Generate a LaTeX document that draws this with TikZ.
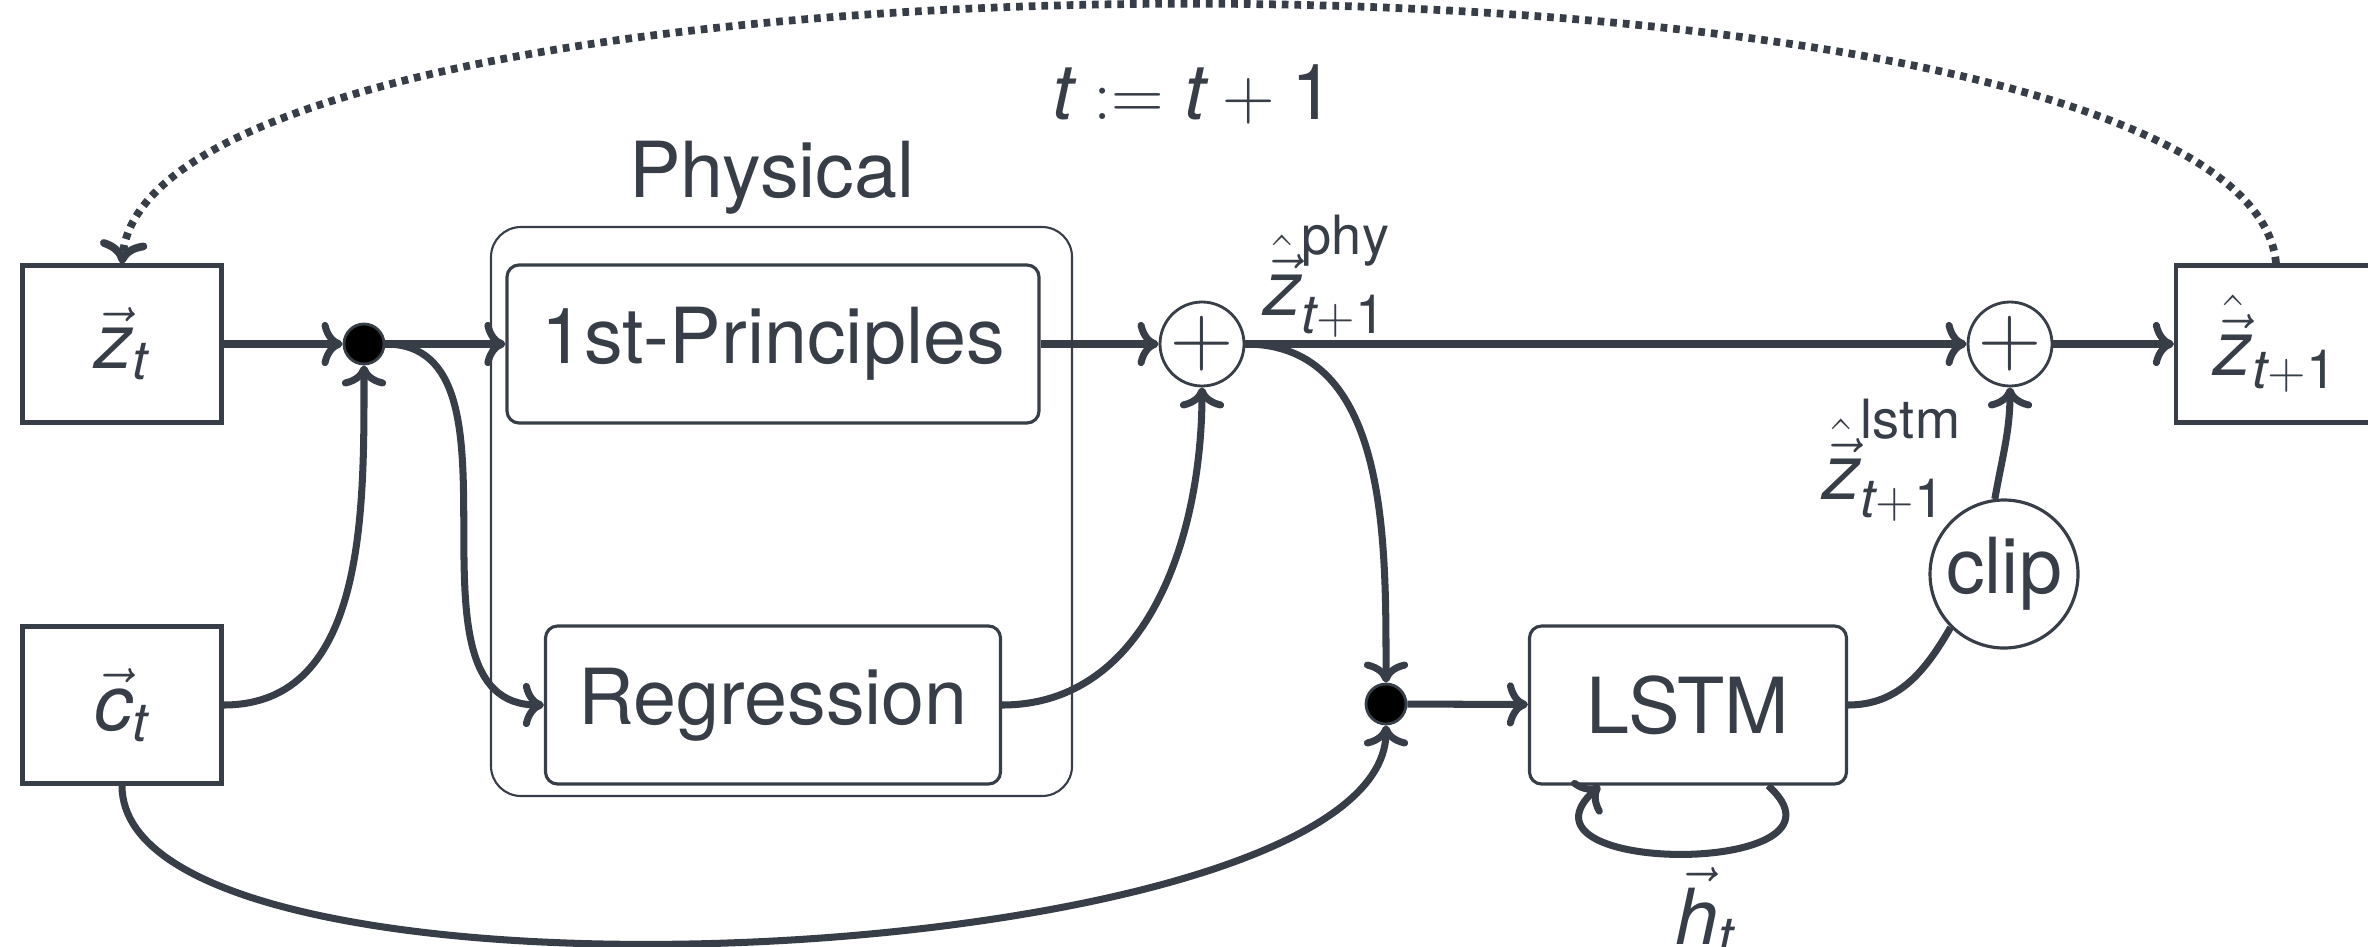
\documentclass[tikz,border=0pt]{standalone}
\usepackage[no-math]{fontspec}
\setmainfont{TeX Gyre Heros}
\newfontfamily\herosfam{TeX Gyre Heros}[NFSSFamily=herosnfss]
\DeclareSymbolFont{hvletters}{TU}{herosnfss}{m}{it}
\DeclareSymbolFont{hvdigits}{TU}{herosnfss}{m}{n}
\DeclareMathSymbol{c}{\mathalpha}{hvletters}{`c}
\DeclareMathSymbol{h}{\mathalpha}{hvletters}{`h}
\DeclareMathSymbol{t}{\mathalpha}{hvletters}{`t}
\DeclareMathSymbol{z}{\mathalpha}{hvletters}{`z}
\DeclareMathSymbol{1}{\mathalpha}{hvdigits}{`1}
\DeclareMathAlphabet{\mathhv}{TU}{herosnfss}{m}{n}
\usetikzlibrary{arrows.meta}
\definecolor{ink}{RGB}{55,62,72}

\begin{document}
\begin{tikzpicture}[>={Computer Modern Rightarrow}, line width=2pt, color=ink,
  every node/.style={font=\fontsize{22}{26}\selectfont, text=ink},
  blk/.style={draw=ink, line width=1.2pt, minimum height=1.57cm},
  rblk/.style={draw=ink, line width=0.9pt, rounded corners=0.12cm, minimum height=1.58cm},
  junc/.style={circle, draw=ink, line width=0.8pt, fill=black, minimum size=0.4cm, inner sep=0pt},
  summ/.style={circle, draw=ink, line width=0.8pt, minimum size=0.84cm, inner sep=0pt, font=\fontsize{25}{28}\selectfont}]
  \useasboundingbox (0,0) rectangle (23.68,9.46);
  \node[blk, minimum width=1.99cm] (zt) at (1.22,6.02) {$\vec{z}_t$};
  \node[blk, minimum width=1.99cm] (ct) at (1.22,2.41) {$\vec{c}_t$};
  \node[draw=ink, line width=0.6pt, rounded corners=0.3cm, minimum width=5.81cm, minimum height=5.69cm] (phys) at (7.815,4.345) {};
  \node (physcap) at (7.72,7.68) {Physical};
  \node[rblk, minimum width=5.32cm] (fp) at (7.73,6.02) {1st-Principles};
  \node[rblk, minimum width=4.55cm] (reg) at (7.73,2.41) {Regression};
  \node[junc] (j1) at (3.64,6.02) {};
  \node[summ] (s1) at (12.02,6.02) {$+$};
  \node[junc] (j2) at (13.86,2.42) {};
  \node[rblk, minimum width=3.17cm] (lstm) at (16.88,2.41) {LSTM};
  \node[summ] (s2) at (20.10,6.02) {$+$};
  \node[circle, draw=ink, line width=0.9pt, minimum size=1.48cm, inner sep=0pt] (clip) at (20.04,3.72) {clip};
  \node[blk, minimum width=2.0cm] (zn) at (22.76,6.02) {$\hat{\vec{z}}_{t+1}$};
  \node (zphy) at (13.27,6.70) {$\hat{\vec{z}}^{\mathhv{phy}}_{t+1}$};
  \node (zlstm) at (18.92,4.86) {$\hat{\vec{z}}^{\mathhv{lstm}}_{t+1}$};
  \node (tstep) at (11.93,8.52) {$t := t + 1$};
  \node[anchor=base] (ht) at (17.05,0.02) {$\vec{h}_t$};

  \draw[->] (zt) -- (j1);
  \draw[->] (j1) -- (fp);
  \draw[->] (j1.east) to[out=0,in=180] (reg.west);
  \draw[->] (ct.east) to[out=0,in=-90] (j1.south);
  \draw[->] (fp) -- (s1);
  \draw[->] (reg.east) to[out=0,in=-90] (s1.south);
  \draw[->] (s1) -- (s2);
  \draw[->] (s1.east) to[out=0,in=90] (j2.north);
  \draw[->] (ct.south) to[out=-90,in=-90,looseness=0.5] (j2.south);
  \draw[->] (j2) -- (lstm);
  \draw (lstm.east) to[out=0,in=-120] (clip.-135);
  \draw[->] (clip.97) to[out=80,in=-90] (s2.south);
  \draw[->] (s2) -- (zn);
  \draw[->] ([xshift=8mm]lstm.south) .. controls +(1.02,-0.91) and +(-1.02,-0.91) .. ([xshift=-8.8mm]lstm.south);
  \draw[->, line width=2.2pt, dash pattern=on 1.9pt off 1.7pt] (zn.north) .. controls +(-0.3,3.45) and +(0.3,3.45) .. (zt.north);
\end{tikzpicture}
\end{document}
